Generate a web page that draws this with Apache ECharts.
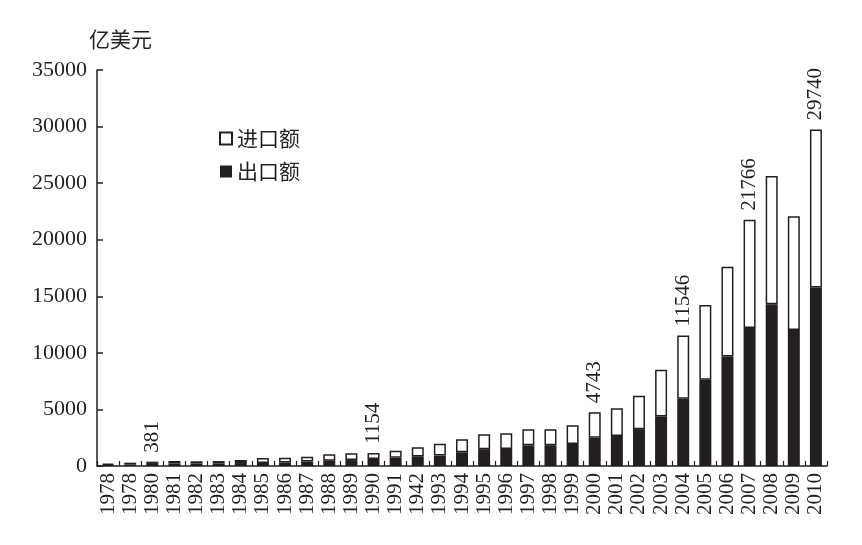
<!DOCTYPE html>
<html>
<head>
<meta charset="utf-8">
<script src="https://cdn.jsdelivr.net/npm/echarts@6/dist/echarts.min.js"></script>
<style>
  html, body { margin: 0; padding: 0; background: #fff; }
  #chart { width: 862px; height: 545px; }
</style>
</head>
<body>
<div id="chart"></div>
<script>
// 年份标签(按原图照录)
const years = ['1978', '1978', '1980', '1981', '1982', '1983', '1984', '1985', '1986', '1987',
  '1988', '1989', '1990', '1991', '1942', '1993', '1994', '1995', '1996', '1997',
  '1998', '1999', '2000', '2001', '2002', '2003', '2004', '2005', '2006', '2007',
  '2008', '2009', '2010']
// 出口额(亿美元)
const exports = [98, 137, 181, 220, 223, 222, 261, 274, 309, 394,
  475, 525, 621, 719, 849, 917, 1210, 1488, 1511, 1828,
  1837, 1949, 2492, 2661, 3256, 4382, 5933, 7620, 9689, 12205,
  14307, 12016, 15778]
// 进口额(亿美元)
const imports = [109, 157, 200, 220, 193, 214, 274, 423, 429, 432,
  553, 591, 534, 638, 806, 1040, 1156, 1321, 1388, 1424,
  1402, 1657, 2251, 2436, 2952, 4128, 5612, 6600, 7915, 9561,
  11326, 10059, 13962]
// 柱顶标注的进出口总额
const labelIndex = [2, 12, 22, 26, 29, 32]
const labelTotals = [381, 1154, 4743, 11546, 21766, 29740]
// y轴刻度
const yMin = 0
const yMax = 35000
const yStep = 5000

const ink = '#231f20'
const serif = '"Liberation Serif", "DejaVu Serif", serif'
const cjk = '"Noto Sans CJK SC", sans-serif'

const chart = echarts.init(document.getElementById('chart'))

//只给标注年份加柱顶数字
const importData = imports.map((v, i) => {
  const k = labelIndex.indexOf(i)
  if (k < 0) return v
  return {
    value: v,
    label: {
      show: true,
      position: 'top',
      rotate: 90,
      align: 'left',
      verticalAlign: 'middle',
      distance: 9,
      formatter: String(labelTotals[k]),
      color: ink,
      fontFamily: serif,
      fontSize: 21
    }
  }
})

const option = {
  animation: false,
  backgroundColor: '#fff',
  title: {
    text: '亿美元',
    left: 84,
    top: 24,
    textStyle: { color: ink, fontFamily: cjk, fontSize: 21, fontWeight: 'normal' }
  },
  legend: {
    data: [
      { name: '进口额', icon: 'rect' },
      { name: '出口额', icon: 'rect' }
    ],
    orient: 'vertical',
    left: 214,
    top: 123,
    itemWidth: 12,
    itemHeight: 12,
    itemGap: 12,
    textStyle: { color: ink, fontFamily: cjk, fontSize: 21 }
  },
  grid: { left: 97, top: 70, width: 730, height: 396 },
  xAxis: {
    type: 'category',
    data: years,
    axisLine: { lineStyle: { color: ink, width: 1.5 } },
    axisTick: { show: true, inside: true, length: 5, lineStyle: { color: ink, width: 1.2 } },
    axisLabel: {
      interval: 0,
      rotate: 90,
      margin: 7,
      color: ink,
      fontFamily: serif,
      fontSize: 21
    }
  },
  yAxis: {
    type: 'value',
    min: yMin,
    max: yMax,
    interval: yStep,
    splitLine: { show: false },
    axisLine: { show: true, lineStyle: { color: ink, width: 1.5 } },
    axisTick: { show: true, inside: true, length: 6, lineStyle: { color: ink, width: 1.5 } },
    axisLabel: {
      color: ink,
      fontFamily: serif,
      fontSize: 22,
      margin: 10,
      formatter: v => String(v)
    }
  },
  series: [
    {
      name: '出口额',
      type: 'bar',
      stack: 'total',
      barWidth: 12,
      itemStyle: { color: ink },
      data: exports
    },
    {
      name: '进口额',
      type: 'bar',
      stack: 'total',
      barWidth: 12,
      itemStyle: { color: '#fff', borderColor: ink, borderWidth: 1.5 },
      data: importData
    }
  ]
}

chart.setOption(option)
</script>
</body>
</html>
